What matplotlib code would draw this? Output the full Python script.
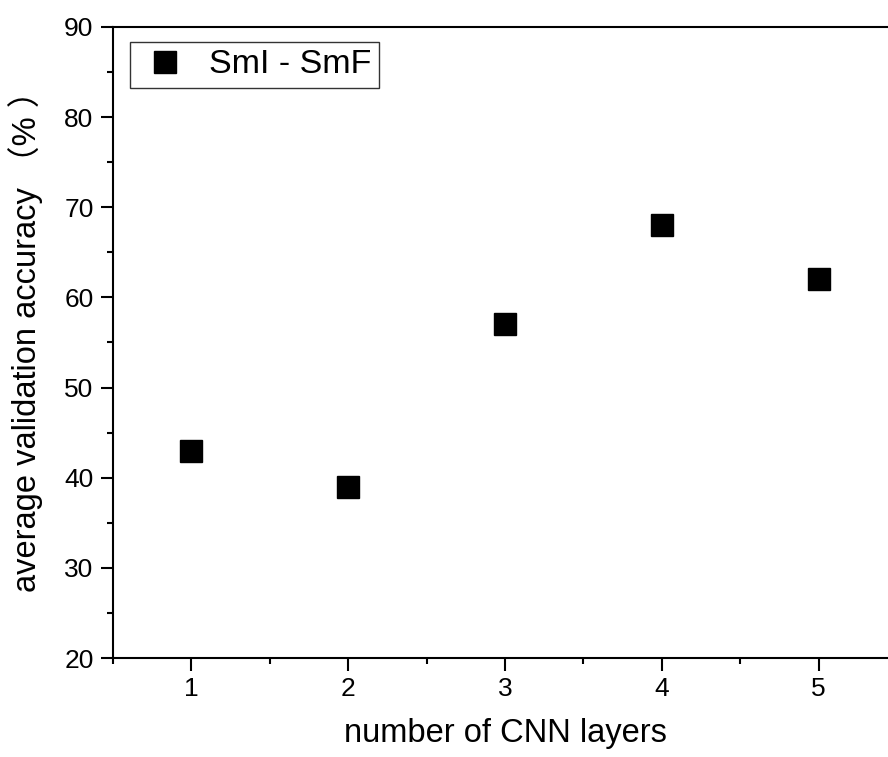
import matplotlib
matplotlib.use("Agg")
import matplotlib.pyplot as plt
from matplotlib.ticker import MultipleLocator

plt.rcParams['font.family'] = ['Liberation Sans', 'Noto Sans CJK SC', 'DejaVu Sans']

layers = [1, 2, 3, 4, 5]
accuracy = [43, 39, 57, 68, 62]
series_name = "SmI - SmF"

W, H = 888, 757
fig = plt.figure(figsize=(W / 100, H / 100), dpi=100)
ax = fig.add_axes([113 / W, 1 - 658 / H, (897 - 113) / W, (658 - 27) / H])

ax.plot(layers, accuracy, linestyle='none', marker='s', markersize=16.5,
        color='black', label=series_name)

ax.set_xlim(0.5, 5.5)
ax.set_ylim(20, 90)
ax.xaxis.set_major_locator(MultipleLocator(1))
ax.xaxis.set_minor_locator(MultipleLocator(0.5))
ax.yaxis.set_major_locator(MultipleLocator(10))
ax.yaxis.set_minor_locator(MultipleLocator(5))
ax.tick_params(which='both', direction='out', width=1.5, labelsize=19,
               top=False, right=False)
ax.tick_params(which='major', length=9, pad=5)
ax.tick_params(which='minor', length=4.5)
for s in ax.spines.values():
    s.set_linewidth(1.5)

ax.set_xlabel("number of CNN layers", fontsize=23.5, labelpad=12)
ax.set_ylabel("average validation accuracy （% ）", fontsize=23.5, labelpad=15)
ax.yaxis.label.set_y(0.515)

leg = ax.legend(loc='upper left', bbox_to_anchor=(17 / 784, 1 - 15 / 631),
                fontsize=24.5, frameon=True, fancybox=False, borderaxespad=0,
                handletextpad=0.5, borderpad=0.22, markerscale=1.0,
                handlelength=1.6)
leg.get_frame().set_edgecolor('black')
leg.get_frame().set_linewidth(1.0)

fig.savefig("out.png", dpi=100)
